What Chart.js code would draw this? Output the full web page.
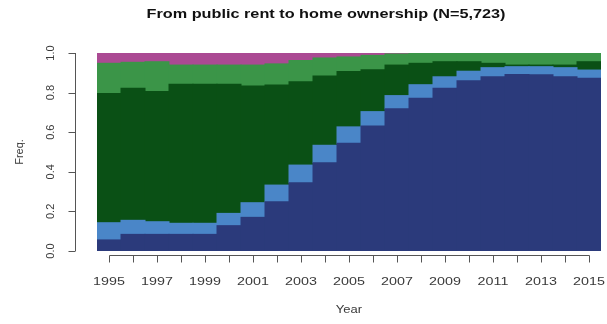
<!DOCTYPE html>
<html>
<head>
<meta charset="utf-8">
<script src="https://cdn.jsdelivr.net/npm/chart.js@4.4.1/dist/chart.umd.min.js"></script>
<style>
  html, body { margin: 0; padding: 0; background: #fff; }
  #wrap { width: 607px; height: 324px; }
</style>
</head>
<body>
<div id="wrap"><canvas id="stateChart"></canvas></div>
<script>
/* Data: share of the cohort in each housing state, per year */
const years = [1995, 1996, 1997, 1998, 1999, 2000, 2001, 2002, 2003, 2004, 2005,
               2006, 2007, 2008, 2009, 2010, 2011, 2012, 2013, 2014, 2015];
const ownerShare  = [0.056, 0.084, 0.084, 0.084, 0.084, 0.128, 0.170, 0.249, 0.345, 0.446, 0.544,
                     0.631, 0.718, 0.771, 0.822, 0.860, 0.880, 0.892, 0.890, 0.880, 0.872];
const coopShare   = [0.087, 0.071, 0.064, 0.056, 0.056, 0.062, 0.074, 0.084, 0.089, 0.088, 0.083,
                     0.073, 0.067, 0.069, 0.058, 0.048, 0.046, 0.039, 0.041, 0.046, 0.042];
const publicShare = [0.653, 0.667, 0.657, 0.702, 0.702, 0.652, 0.589, 0.505, 0.421, 0.350, 0.279,
                     0.211, 0.154, 0.108, 0.076, 0.048, 0.022, 0.008, 0.008, 0.013, 0.042];
const privateShare = [0.152, 0.131, 0.151, 0.097, 0.097, 0.097, 0.106, 0.107, 0.107, 0.091, 0.074,
                      0.073, 0.056, 0.050, 0.044, 0.044, 0.052, 0.061, 0.061, 0.061, 0.044];
const otherShare  = [0.052, 0.047, 0.044, 0.061, 0.061, 0.061, 0.061, 0.055, 0.038, 0.025, 0.020,
                     0.012, 0.005, 0.002, 0, 0, 0, 0, 0, 0, 0];
const yTicks = [0, 0.2, 0.4, 0.6, 0.8, 1.0];
const xTickLabels = [1995, 1997, 1999, 2001, 2003, 2005, 2007, 2009, 2011, 2013, 2015];

const title = 'From public rent to home ownership (N=5,723)';
const FONT = '"Liberation Sans", Arial, sans-serif';

// horizontal text is drawn a bit wide, like the stretched R device output
function wideText(ctx, text, x, y, sx) {
    ctx.save();
    ctx.translate(x, y);
    ctx.scale(sx, 1);
    ctx.fillText(text, 0, 0);
    ctx.restore();
}

/* R-style axes: detached from the plot box, ticks pointing outwards */
const rAxes = {
    id: 'rAxes',
    afterDraw(chart) {
        const {ctx, chartArea, scales: {x, y}} = chart;
        ctx.save();
        ctx.strokeStyle = '#555';
        ctx.lineWidth = 1;
        ctx.fillStyle = '#3a3a3a';

        // y axis
        const ax = chartArea.left - 21.5;
        ctx.beginPath();
        ctx.moveTo(ax, y.getPixelForValue(0));
        ctx.lineTo(ax, y.getPixelForValue(1));
        yTicks.forEach(v => {
            const p = Math.round(y.getPixelForValue(v)) + 0.5;
            ctx.moveTo(ax, p);
            ctx.lineTo(ax - 7, p);
        });
        ctx.stroke();
        ctx.font = '11px ' + FONT;
        ctx.textAlign = 'center';
        ctx.textBaseline = 'middle';
        yTicks.forEach(v => {
            ctx.save();
            ctx.translate(ax - 25, y.getPixelForValue(v));
            ctx.rotate(-Math.PI / 2);
            ctx.fillText(v.toFixed(1), 0, 0);
            ctx.restore();
        });
        ctx.save();
        ctx.font = '11px ' + FONT;
        ctx.translate(20, (chartArea.top + chartArea.bottom) / 2);
        ctx.rotate(-Math.PI / 2);
        ctx.fillText('Freq.', 0, 0);
        ctx.restore();

        // x axis
        const ay = chartArea.bottom + 4.5;
        const first = x.getPixelForValue(0);
        const last = x.getPixelForValue(years.length - 1);
        ctx.beginPath();
        ctx.moveTo(Math.round(first) + 0.5, ay);
        ctx.lineTo(Math.round(last) + 0.5, ay);
        years.forEach((yr, i) => {
            const p = Math.round(x.getPixelForValue(i)) + 0.5;
            ctx.moveTo(p, ay);
            ctx.lineTo(p, ay + 7);
        });
        ctx.stroke();
        ctx.font = '11px ' + FONT;
        xTickLabels.forEach(yr => {
            wideText(ctx, String(yr), x.getPixelForValue(years.indexOf(yr)), ay + 26, 1.3);
        });
        ctx.font = '10px ' + FONT;
        wideText(ctx, 'Year', (chartArea.left + chartArea.right) / 2, ay + 55, 1.3);

        // title
        ctx.fillStyle = '#111';
        ctx.font = 'bold 12.5px ' + FONT;
        wideText(ctx, title, 326, 15, 1.3);
        ctx.restore();
    }
};

/* Create chart */
const stateChart = new Chart('stateChart', {
    type: 'bar',
    data: {
        labels: years,
        datasets: [
            { label: 'Owner', data: ownerShare, backgroundColor: '#2b3a7b' },
            { label: 'Co-op', data: coopShare, backgroundColor: '#4a86c8' },
            { label: 'Public rent', data: publicShare, backgroundColor: '#0a5015' },
            { label: 'Private rent', data: privateShare, backgroundColor: '#3b9548' },
            { label: 'Other', data: otherShare, backgroundColor: '#ab4a93' }
        ]
    },
    plugins: [rAxes],
    options: {
        responsive: true,
        maintainAspectRatio: false,
        animation: false,
        layout: {
            padding: { left: 97, right: 6, top: 53, bottom: 73 }
        },
        datasets: {
            bar: {
                categoryPercentage: 1,
                barPercentage: 1,
                borderWidth: 0,
                inflateAmount: 0.5
            }
        },
        scales: {
            x: { stacked: true, display: false },
            y: { stacked: true, display: false, min: 0, max: 1 }
        },
        plugins: {
            legend: { display: false },
            title: { display: false },
            tooltip: { enabled: false }
        }
    }
});
</script>
</body>
</html>
